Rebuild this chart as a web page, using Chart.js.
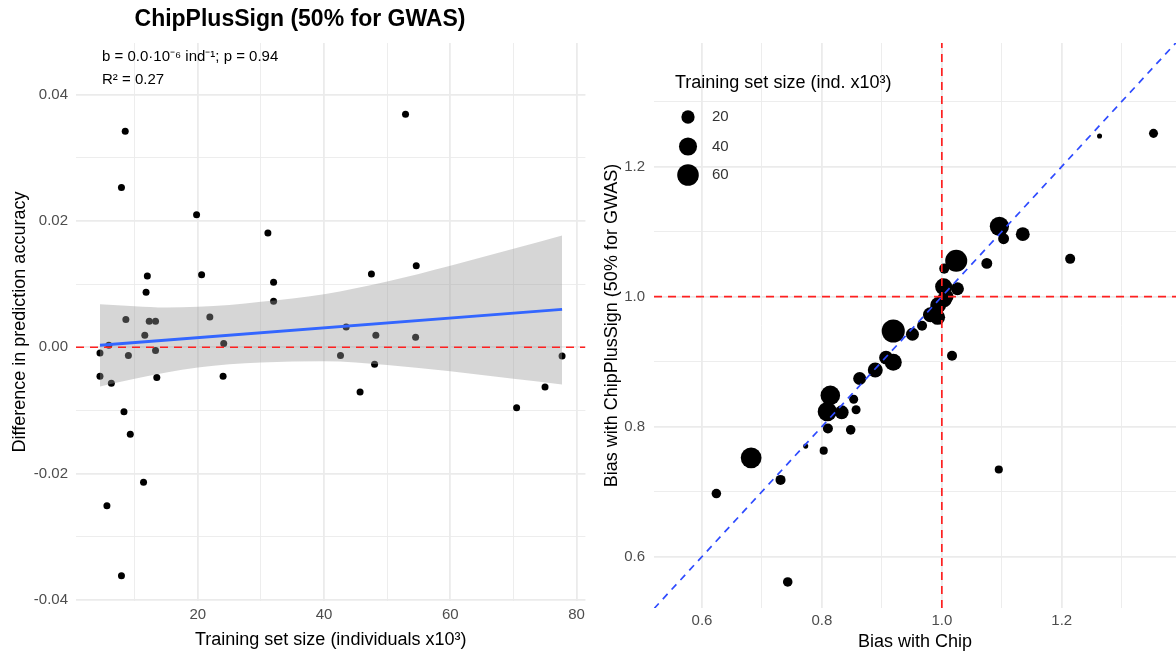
<!DOCTYPE html>
<html><head><meta charset="utf-8">
<script src="https://cdn.jsdelivr.net/npm/chart.js@4.4.1/dist/chart.umd.min.js"></script>
<style>
html,body{margin:0;padding:0;background:#fff;}
#wrap{position:relative;width:1176px;height:655px;overflow:hidden;background:#fff;}
#c1{position:absolute;left:0;top:0;}
#c2{position:absolute;left:590px;top:0;}
</style></head><body>
<div id="wrap"><canvas id="c1" width="590" height="655"></canvas><canvas id="c2" width="586" height="655"></canvas></div>
<script>
// ---------- LEFT PANEL DATA ----------
const leftTitle = 'ChipPlusSign (50% for GWAS)';
const leftAnnot1 = 'b = 0.0\u00B710\u207B\u2076 ind\u207B\u00B9; p = 0.94';
const leftAnnot2 = 'R\u00B2 = 0.27';
const leftXTitle = 'Training set size (individuals x10\u00B3)';
const leftYTitle = 'Difference in prediction accuracy';
const leftX = [8.5,7.9,19.8,31.1,12.0,20.6,32.0,11.8,32.0,8.6,12.3,13.3,21.9,11.6,
  4.5,5.9,9.0,13.3,24.1,4.5,6.3,13.5,24.0,8.3,9.3,11.4,5.6,7.9,
  52.9,47.5,54.6,43.5,48.2,54.5,42.6,48.0,77.7,45.7,70.5,75.0];
const leftY = [0.0342,0.0253,0.0210,0.0181,0.0113,0.0115,0.0103,0.0087,0.0073,0.0044,0.0041,0.0041,0.0048,0.0019,
  -0.0009,0.0003,-0.0013,-0.0005,0.0006,-0.0046,-0.0057,-0.0048,-0.0046,-0.0102,-0.0138,-0.0214,-0.0251,-0.0362,
  0.0369,0.0116,0.0129,0.0032,0.0019,0.0016,-0.0013,-0.0027,-0.0014,-0.0071,-0.0096,-0.0063];
const fitX = [4.5, 77.7];
const fitY = [0.0003, 0.0060];
const bandX = [4.5,10,15,20,25,30,40,50,60,70,77.7];
const bandUpper = [0.0068,0.0065,0.0063,0.0064,0.0067,0.0072,0.0084,0.0104,0.0129,0.0156,0.0177];
const bandLower = [-0.0062,-0.0050,-0.0040,-0.0032,-0.0027,-0.0024,-0.0022,-0.0028,-0.0038,-0.0050,-0.0059];
const leftXRange = [0.7, 81.4];
const leftYRange = [-0.0402, 0.0482];
const leftXTicks = [10,20,30,40,50,60,70,80];
const leftXMajor = [20,40,60,80];
const leftYTicks = [-0.04,-0.03,-0.02,-0.01,0,0.01,0.02,0.03,0.04];
const leftYMajor = [-0.04,-0.02,0,0.02,0.04];

// ---------- RIGHT PANEL DATA ----------
const rightXTitle = 'Bias with Chip';
const rightYTitle = 'Bias with ChipPlusSign (50% for GWAS)';
const legendTitle = 'Training set size (ind. x10\u00B3)';
const legendSizes = [20, 40, 60];
const rightX = [0.624,0.682,0.731,0.743,0.773,0.803,0.810,0.848,0.809,0.814,0.833,0.853,0.857,0.863,0.889,0.907,0.919,0.919,0.951,0.967,
  0.981,0.993,0.994,1.004,1.008,1.003,1.026,1.004,1.024,1.017,1.075,1.096,1.103,1.135,1.214,1.095,1.263,1.353,0.990];
const rightY = [0.697,0.752,0.718,0.561,0.770,0.763,0.797,0.795,0.823,0.848,0.822,0.842,0.826,0.874,0.887,0.906,0.899,0.947,0.942,0.955,
  0.972,0.968,0.987,0.995,1.000,1.015,1.012,1.043,1.055,0.909,1.051,1.108,1.089,1.096,1.058,0.734,1.247,1.251,0.978];
const rightSize = [10,55,11,10,4.7,7.5,11,10,46,48,22,9,9,19,26,22,35,70,19,11,
  26,26,30,26,22,35,19,11,63,11,13,46,13,22,11,7.5,4.7,9,22];
const rightRange = [0.52, 1.3905];
const rightYRange = [0.521, 1.390];
const rightTicks = [0.6,0.7,0.8,0.9,1.0,1.1,1.2,1.3];
const rightMajor = [0.6,0.8,1.0,1.2];
const sizeDomain = [4.5, 77.7];

// ---------- STYLE ----------
const FONT = "'Liberation Sans', Arimo, Arial, Helvetica, sans-serif";
Chart.defaults.font.family = FONT;
Chart.defaults.color = '#4D4D4D';
const GRID = '#EBEBEB';

function sizeRadius(n){
  const t = Math.max(0, Math.min(1, (n - sizeDomain[0]) / (sizeDomain[1] - sizeDomain[0])));
  return 2.015 * (1 + 5 * Math.sqrt(t));
}
function setTicks(values, majors){
  return function(scale){ scale.ticks = values.map(v => ({value: v, major: majors.includes(v)})); };
}
function gridOpts(){
  return {color: GRID, lineWidth: c => (c.tick && c.tick.major) ? 1.8 : 0.9, drawTicks: false};
}

// ---------- LEFT CHART ----------
const leftTextPlugin = {
  id: 'leftText',
  afterDraw(chart){
    const c = chart.ctx;
    c.save();
    c.fillStyle = '#000';
    c.textBaseline = 'middle';
    c.textAlign = 'center';
    c.font = 'bold 23px ' + FONT;
    c.fillText(leftTitle, 300, 20);
    c.textAlign = 'left';
    c.font = '15px ' + FONT;
    c.fillText(leftAnnot1, 102, 57);
    c.fillText(leftAnnot2, 102, 80);
    c.restore();
  }
};

new Chart(document.getElementById('c1'), {
  type: 'scatter',
  data: {
    datasets: [
      {label:'zero', type:'line', data:[{x:leftXRange[0],y:0},{x:leftXRange[1],y:0}],
       borderColor:'#FF2020', borderWidth:1.5, borderDash:[8,6], pointRadius:0, fill:false, order:1},
      {label:'fit', type:'line', data: fitX.map((x,i)=>({x, y:fitY[i]})),
       borderColor:'#3366FF', borderWidth:3, pointRadius:0, fill:false, order:2},
      {label:'lower', type:'line', data: bandX.map((x,i)=>({x, y:bandLower[i]})),
       borderWidth:0, borderColor:'rgba(0,0,0,0)', pointRadius:0, fill:false, cubicInterpolationMode:'monotone', order:3},
      {label:'upper', type:'line', data: bandX.map((x,i)=>({x, y:bandUpper[i]})),
       borderWidth:0, borderColor:'rgba(0,0,0,0)', pointRadius:0, fill:'-1', backgroundColor:'rgba(153,153,153,0.4)',
       cubicInterpolationMode:'monotone', order:3},
      {label:'points', data: leftX.map((x,i)=>({x, y:leftY[i]})),
       backgroundColor:'#000', borderWidth:0, pointRadius:3.5, pointHoverRadius:3.5, order:4}
    ]
  },
  options: {
    responsive:false, animation:false, devicePixelRatio:1,
    layout:{autoPadding:false, padding:{left:0, right:4, top:43, bottom:0}},
    plugins:{legend:{display:false}, tooltip:{enabled:false}},
    scales:{
      x:{type:'linear', min:leftXRange[0], max:leftXRange[1],
         afterBuildTicks: setTicks(leftXTicks, leftXMajor),
         afterFit: s => { s.height = 54; },
         grid: gridOpts(), border:{display:false},
         ticks:{autoSkip:false, maxRotation:0, padding:5, color:'#4D4D4D', font:{size:15},
                callback: v => leftXMajor.includes(v) ? String(v) : ''},
         title:{display:true, text:leftXTitle, color:'#000', font:{size:18}, padding:{top:0,bottom:4}}},
      y:{type:'linear', min:leftYRange[0], max:leftYRange[1],
         afterBuildTicks: setTicks(leftYTicks, leftYMajor),
         afterFit: s => { s.width = 76; },
         grid: gridOpts(), border:{display:false},
         ticks:{autoSkip:false, padding:8, color:'#4D4D4D', font:{size:15},
                callback: v => leftYMajor.includes(v) ? v.toFixed(2) : ''},
         title:{display:true, text:leftYTitle, color:'#000', font:{size:18}, padding:{top:9,bottom:0}}}
    }
  },
  plugins:[leftTextPlugin]
});

// ---------- RIGHT CHART ----------
const legendPlugin = {
  id: 'sizeLegend',
  afterDraw(chart){
    const c = chart.ctx;
    const ox = -590; // canvas offset relative to page
    c.save();
    c.fillStyle = '#000';
    c.textBaseline = 'middle';
    c.textAlign = 'left';
    c.font = '18px ' + FONT;
    c.fillText(legendTitle, 675 + ox, 83);
    const ys = [117, 146.5, 175];
    legendSizes.forEach((n, i) => {
      c.beginPath();
      c.fillStyle = '#000';
      c.arc(688 + ox, ys[i], sizeRadius(n), 0, Math.PI*2);
      c.fill();
      c.fillStyle = '#333';
      c.font = '15px ' + FONT;
      c.fillText(String(n), 712 + ox, ys[i]);
    });
    c.restore();
  }
};

new Chart(document.getElementById('c2'), {
  type: 'scatter',
  data: {
    datasets: [
      {label:'v1', type:'line', data:[{x:1,y:rightYRange[0]},{x:1,y:rightYRange[1]}],
       borderColor:'#FF2020', borderWidth:1.7, borderDash:[8,6], pointRadius:0, fill:false, order:1},
      {label:'h1', type:'line', data:[{x:rightRange[0],y:1},{x:rightRange[1],y:1}],
       borderColor:'#FF2020', borderWidth:1.7, borderDash:[8,6], pointRadius:0, fill:false, order:1},
      {label:'diag', type:'line', data:[{x:rightRange[0],y:rightRange[0]},{x:rightRange[1],y:rightRange[1]}],
       borderColor:'#2E4BFF', borderWidth:1.7, borderDash:[7,6], pointRadius:0, fill:false, order:1},
      {label:'bias', data: rightX.map((x,i)=>({x, y:rightY[i]})),
       backgroundColor:'#000', borderWidth:0,
       pointRadius: ctx => sizeRadius(rightSize[ctx.dataIndex]),
       pointHoverRadius: ctx => sizeRadius(rightSize[ctx.dataIndex]), order:4}
    ]
  },
  options: {
    responsive:false, animation:false, devicePixelRatio:1,
    layout:{autoPadding:false, padding:{left:0, right:0, top:43, bottom:0}},
    plugins:{legend:{display:false}, tooltip:{enabled:false}},
    scales:{
      x:{type:'linear', min:rightRange[0], max:rightRange[1],
         afterBuildTicks: setTicks(rightTicks, rightMajor),
         afterFit: s => { s.height = 47; },
         grid: gridOpts(), border:{display:false},
         ticks:{autoSkip:false, maxRotation:0, padding:4, color:'#4D4D4D', font:{size:15},
                callback: v => rightMajor.includes(v) ? v.toFixed(1) : ''},
         title:{display:true, text:rightXTitle, color:'#000', font:{size:18}, padding:{top:0,bottom:2}}},
      y:{type:'linear', min:rightYRange[0], max:rightYRange[1],
         afterBuildTicks: setTicks(rightTicks, rightMajor),
         afterFit: s => { s.width = 64; },
         grid: gridOpts(), border:{display:false},
         ticks:{autoSkip:false, padding:9, color:'#4D4D4D', font:{size:15},
                callback: v => rightMajor.includes(v) ? v.toFixed(1) : ''},
         title:{display:true, text:rightYTitle, color:'#000', font:{size:18}, padding:{top:11,bottom:0}}}
    }
  },
  plugins:[legendPlugin]
});
</script>
</body></html>
